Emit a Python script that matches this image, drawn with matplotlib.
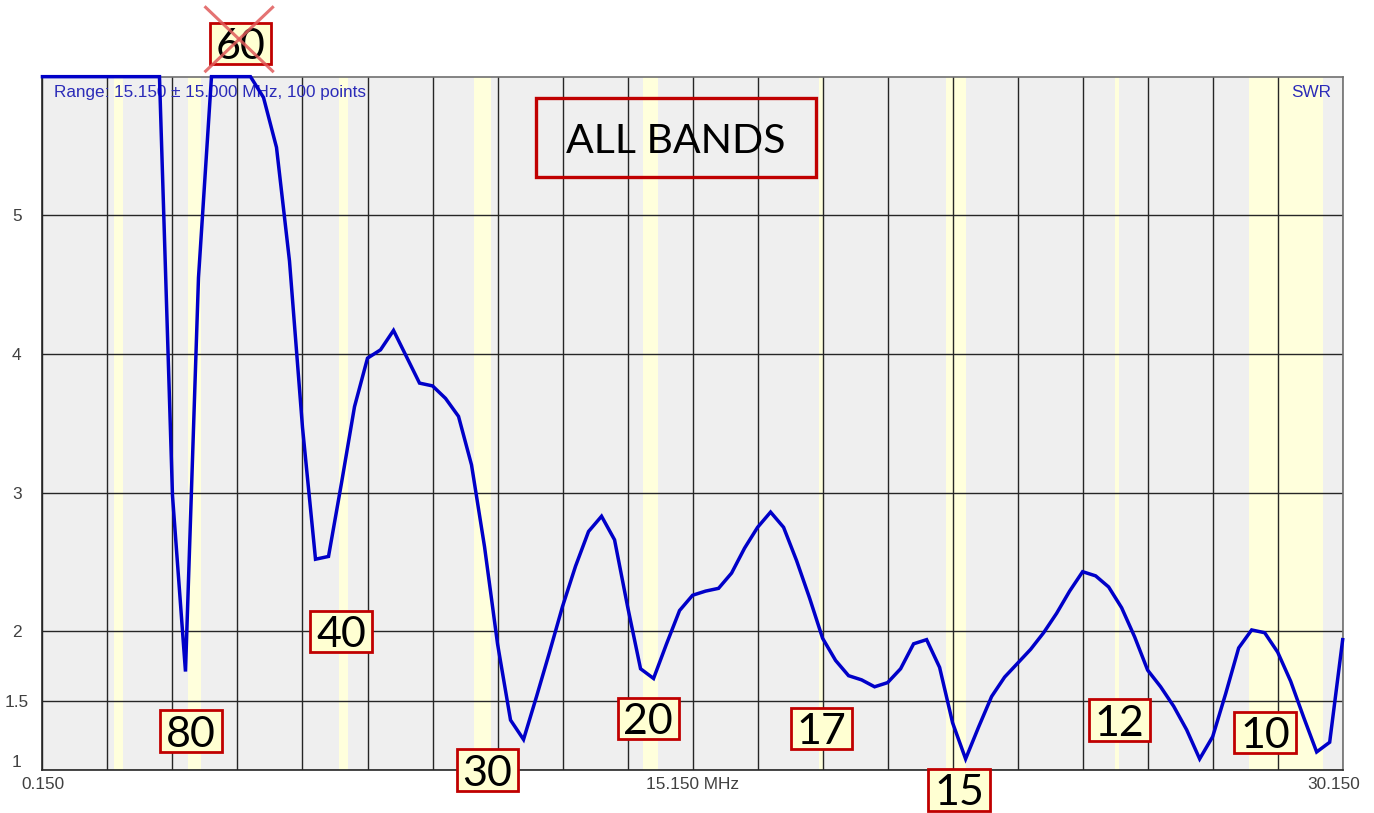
import matplotlib

matplotlib.use("Agg")
import matplotlib.pyplot as plt
import numpy as np
from matplotlib.patches import Rectangle
from matplotlib.transforms import ScaledTranslation

# sweep: 15.150 +/- 15.000 MHz, 100 steps
freq_start = 0.150
freq_stop = 30.150
n_steps = 100

swr = [
    6.00, 6.00, 6.00, 6.00, 6.00, 6.00, 6.00, 6.00, 6.00, 6.00,
    2.98, 1.71, 4.55, 6.00, 6.00, 6.00, 6.00, 5.85, 5.49, 4.67,
    3.47, 2.52, 2.54, 3.07, 3.62, 3.97, 4.03, 4.17, 3.98, 3.79,
    3.77, 3.68, 3.55, 3.20, 2.61, 1.91, 1.36, 1.22, 1.53, 1.85,
    2.18, 2.47, 2.72, 2.83, 2.66, 2.18, 1.73, 1.66, 1.91, 2.15,
    2.26, 2.29, 2.31, 2.42, 2.60, 2.75, 2.86, 2.75, 2.51, 2.24,
    1.95, 1.79, 1.68, 1.65, 1.60, 1.63, 1.73, 1.91, 1.94, 1.74,
    1.34, 1.08, 1.31, 1.53, 1.67, 1.77, 1.87, 1.99, 2.13, 2.29,
    2.43, 2.40, 2.32, 2.17, 1.96, 1.72, 1.60, 1.46, 1.29, 1.08,
    1.24, 1.55, 1.88, 2.01, 1.99, 1.85, 1.64, 1.38, 1.13, 1.20,
    1.94,
]

# amateur band segments (MHz)
band_lo = [1.81, 3.50, 7.00, 10.10, 14.00, 18.068, 21.00, 24.89, 28.00]
band_hi = [2.00, 3.80, 7.20, 10.50, 14.35, 18.168, 21.45, 24.99, 29.70]

y_ticks = [1, 1.5, 2, 3, 4, 5]
y_tick_labels = ["1", "1.5", "2", "3", "4", "5"]

# band tags (metres) and where they sit (MHz, SWR)
tag_names = ["60", "80", "40", "30", "20", "17", "15", "12", "10"]
tag_x = [4.72, 3.58, 7.04, 10.42, 14.13, 18.13, 21.30, 25.00, 28.36]
tag_y = [6.24, 1.28, 2.00, 1.00, 1.37, 1.30, 0.856, 1.36, 1.27]

freq = np.linspace(freq_start, freq_stop, n_steps + 1)

fig = plt.figure(figsize=(13.74, 8.13), dpi=100)
ax = fig.add_axes([0.0309, 0.0529, 0.9463, 0.8528])
ax.set_facecolor("#efefef")
ax.set_xlim(freq_start, freq_stop)
ax.set_ylim(1, 6)

for lo, hi in zip(band_lo, band_hi):
    ax.axvspan(lo, hi, color="#ffffdc", lw=0, zorder=0.5)

x_grid = np.arange(freq_start, freq_stop + 0.01, 1.5)
x_labels = [""] * len(x_grid)
x_labels[0] = "0.150"
x_labels[10] = "15.150 MHz"
x_labels[-1] = "30.150"
ax.set_xticks(x_grid, x_labels)
ax.set_yticks(y_ticks, y_tick_labels)
ax.grid(True, color="#262626", lw=1.0, zorder=1)
ax.set_axisbelow(True)
ax.tick_params(length=0, labelsize=12.4, labelcolor="#404040")
ax.tick_params(axis="y", pad=18.4)
ax.tick_params(axis="x", pad=5)
for lbl in ax.get_yticklabels():
    lbl.set_horizontalalignment("center")
    lbl.set_fontfamily("Liberation Sans")
ax.get_yticklabels()[0].set_verticalalignment("bottom")
for lbl in ax.get_xticklabels():
    lbl.set_fontfamily("Liberation Sans")
last = ax.get_xticklabels()[-1]
last.set_transform(last.get_transform()
                   + ScaledTranslation(-0.09, 0, fig.dpi_scale_trans))

for side in ["left", "bottom"]:
    ax.spines[side].set_color("#262626")
    ax.spines[side].set_linewidth(1.2)
for side in ["top", "right"]:
    ax.spines[side].set_color("#707070")
    ax.spines[side].set_linewidth(1.2)

ax.plot(freq, swr, color="#0000c8", lw=2.5, clip_on=False, zorder=3,
        solid_joinstyle="miter")

ax.text(0.009, 0.9765, "Range: 15.150 \u00b1 15.000 MHz, 100 points",
        transform=ax.transAxes, color="#2b2bb8", fontsize=12.3,
        family="Liberation Sans", va="center", ha="left", zorder=2)
ax.text(0.991, 0.9765, "SWR", transform=ax.transAxes, color="#2b2bb8",
        fontsize=12.3, family="Liberation Sans", va="center", ha="right",
        zorder=2)

# title box
ax.add_patch(Rectangle((11.53, 5.278), 6.46, 0.565, facecolor="none",
                       edgecolor="#c00000", lw=2.4, zorder=4))
ax.text(14.76, 5.56 - 0.108, "ALL BANDS", family="Lato", fontsize=29.5,
        ha="center", va="baseline", color="black", zorder=5)

# band tags
box_w = 1.42
box_h = 0.30
for name, cx, cy in zip(tag_names, tag_x, tag_y):
    ax.add_patch(Rectangle((cx - box_w / 2, cy - box_h / 2), box_w, box_h,
                           facecolor="#ffffd2", edgecolor="#c00000", lw=2.0,
                           clip_on=False, zorder=6))
    ax.text(cx, cy - 0.112, name, family="Lato", fontsize=31, ha="center",
            va="baseline", color="black", zorder=7, clip_on=False)

# 60 m is not available: strike it out
ax.plot([3.915, 5.46], [6.50, 6.04], color="#e05a5a", alpha=0.85, lw=2.2,
        clip_on=False, zorder=8)
ax.plot([3.915, 5.46], [6.04, 6.50], color="#e05a5a", alpha=0.85, lw=2.2,
        clip_on=False, zorder=8)

fig.savefig("out.png", dpi=100, facecolor="white")
